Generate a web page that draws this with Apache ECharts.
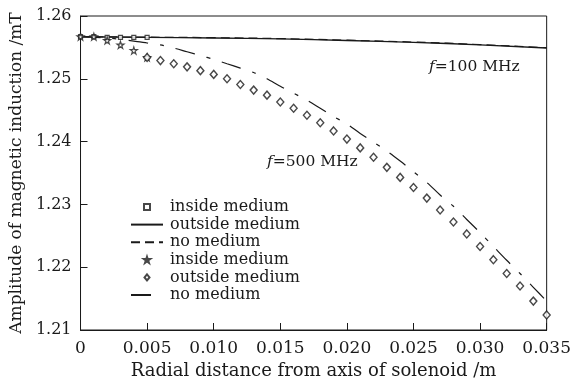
<!DOCTYPE html>
<html>
<head>
<meta charset="utf-8">
<script src="https://cdn.jsdelivr.net/npm/echarts@6/dist/echarts.min.js"></script>
<style>html,body{margin:0;padding:0;background:#fff}#c{width:574px;height:385px}</style>
</head>
<body>
<div id="c"></div>
<script>
// ---- data ----
const xTicks = [0, 0.005, 0.010, 0.015, 0.020, 0.025, 0.030, 0.035];
const yTicks = [1.21, 1.22, 1.23, 1.24, 1.25, 1.26];

// f = 100 MHz
const in100X = [0, 0.001, 0.002, 0.003, 0.004, 0.005];
const in100Y = [1.2567, 1.2567, 1.2566, 1.2566, 1.2566, 1.2566];
const out100X = [0, 0.005, 0.010, 0.015, 0.020, 0.025, 0.030, 0.035];
const out100Y = [1.2567, 1.2566, 1.2565, 1.25635, 1.2561, 1.2558, 1.2554, 1.2549];
const no100X = [0, 0.005, 0.010, 0.015, 0.020, 0.025, 0.030, 0.035];
const no100Y = [1.2567, 1.25663, 1.25655, 1.2564, 1.25615, 1.25585, 1.25545, 1.25495];

// f = 500 MHz
const in500X = [0, 0.001, 0.002, 0.003, 0.004, 0.005];
const in500Y = [1.2567, 1.2567, 1.2561, 1.2554, 1.2545, 1.2534];
const out500X = [0.005, 0.006, 0.007, 0.008, 0.009, 0.010, 0.011, 0.012, 0.013, 0.014, 0.015,
  0.016, 0.017, 0.018, 0.019, 0.020, 0.021, 0.022, 0.023, 0.024, 0.025,
  0.026, 0.027, 0.028, 0.029, 0.030, 0.031, 0.032, 0.033, 0.034, 0.035];
const out500Y = [1.2534, 1.2529, 1.2524, 1.2519, 1.2513, 1.2507, 1.2500, 1.2491, 1.2482, 1.2474, 1.2463,
  1.2453, 1.2442, 1.2430, 1.2417, 1.2404, 1.2390, 1.2375, 1.2359, 1.2343, 1.2327,
  1.2310, 1.2291, 1.2272, 1.2253, 1.2233, 1.2212, 1.2190, 1.2170, 1.2146, 1.2124];
const no500X = [0, 0.002, 0.004, 0.005, 0.006, 0.007, 0.008, 0.009, 0.010, 0.011, 0.012, 0.013,
  0.014, 0.015, 0.016, 0.017, 0.018, 0.019, 0.020, 0.021, 0.022, 0.023, 0.024,
  0.025, 0.026, 0.027, 0.028, 0.029, 0.030, 0.031, 0.032, 0.033, 0.034, 0.035];
const no500Y = [1.2567, 1.2565, 1.2560, 1.2557, 1.2554, 1.2549, 1.2543, 1.2537, 1.2531, 1.2524, 1.2517, 1.2510,
  1.2500, 1.2488, 1.2477, 1.2466, 1.2453, 1.2440, 1.2428, 1.2413, 1.2399, 1.2385, 1.2369,
  1.2352, 1.2335, 1.2315, 1.2297, 1.2276, 1.2255, 1.2233, 1.2211, 1.2190, 1.2168, 1.2146];

const seriesNames = ['inside medium', 'outside medium', 'no medium', 'inside medium', 'outside medium', 'no medium'];
const annotations = ['100 MHz', '500 MHz'];

// ---- chart ----
const zip = (xs, ys) => xs.map((x, i) => [x, ys[i]]);
const FONT = 'DejaVu Serif';
const INK = '#1a1a1a';
const starPath = 'path://M50,0 L61.8,36.2 L100,36.2 L69.1,58.6 L80.9,95.1 L50,72.7 L19.1,95.1 L30.9,58.6 L0,36.2 L38.2,36.2 Z';
const squarePath = 'path://M0,0 L10,0 L10,10 L0,10 Z';
const diamondPath = 'path://M5,0 L10,6 L5,12 L0,6 Z';
const ids = seriesNames.map((n, i) => n + '#' + i);
const isLine = [false, true, true, false, false, true];

const chart = echarts.init(document.getElementById('c'), null, {renderer: 'canvas'});
chart.setOption({
  animation: false,
  backgroundColor: '#fff',
  grid: {left: 80, right: 22, top: 16, bottom: 53, show: true, borderColor: INK, borderWidth: 1},
  xAxis: {
    type: 'value', min: 0, max: 0.035, interval: 0.005,
    name: 'Radial distance from axis of solenoid /m', nameLocation: 'middle', nameGap: 32,
    nameTextStyle: {fontFamily: FONT, fontSize: 18, color: INK},
    axisLine: {lineStyle: {color: INK, width: 1}},
    axisTick: {inside: true, length: 7, lineStyle: {color: INK}},
    splitLine: {show: false},
    axisLabel: {fontFamily: FONT, fontSize: 17, color: INK, margin: 10,
      formatter: v => { const t = xTicks.find(k => Math.abs(k - v) < 1e-9); const val = t === undefined ? v : t; return val === 0 ? '0' : val.toFixed(3); }}
  },
  yAxis: {
    type: 'value', min: 1.21, max: 1.26, interval: 0.01,
    name: 'Amplitude of magnetic induction /mT', nameLocation: 'middle', nameGap: 53,
    nameTextStyle: {fontFamily: FONT, fontSize: 17, color: INK},
    axisLine: {show: true, lineStyle: {color: INK, width: 1}},
    axisTick: {show: true, inside: true, length: 7, lineStyle: {color: INK}},
    splitLine: {show: false},
    axisLabel: {fontFamily: FONT, fontSize: 16, color: INK, margin: 9,
      formatter: v => { const t = yTicks.find(k => Math.abs(k - v) < 1e-9); return (t === undefined ? v : t).toFixed(2); }}
  },
  legend: {
    orient: 'vertical', left: 125, top: 194,
    itemWidth: 32, itemHeight: 6, itemGap: 1.6,
    symbolKeepAspect: true,
    data: ids.map((id, i) => isLine[i] ? {name: id, itemStyle: {opacity: 0}} : {name: id}),
    formatter: n => n.split('#')[0],
    textStyle: {fontFamily: FONT, fontSize: 16, color: INK, lineHeight: 16, padding: [0, 0, 0, 2]}
  },
  series: [
    {name: ids[0], type: 'scatter', data: zip(in100X, in100Y), symbol: squarePath, symbolSize: 4,
      itemStyle: {color: '#fff', borderColor: INK, borderWidth: 1.2}, z: 5},
    {name: ids[1], type: 'line', data: zip(out100X, out100Y), smooth: true, symbol: 'none', showSymbol: false,
      lineStyle: {color: INK, width: 1.4, type: 'solid'}, itemStyle: {color: INK}},
    {name: ids[2], type: 'line', data: zip(no100X, no100Y), smooth: true, symbol: 'none', showSymbol: false,
      lineStyle: {color: INK, width: 1.2, type: [9, 5]}, itemStyle: {color: INK}},
    {name: ids[3], type: 'scatter', data: zip(in500X, in500Y), symbol: starPath, symbolSize: 7,
      itemStyle: {color: '#fff', borderColor: INK, borderWidth: 1.2}, z: 5},
    {name: ids[4], type: 'scatter', data: zip(out500X, out500Y), symbol: diamondPath, symbolSize: [7, 8],
      itemStyle: {color: '#fff', borderColor: INK, borderWidth: 1.4}, z: 5},
    {name: ids[5], type: 'line', data: zip(no500X, no500Y), smooth: 0.3, symbol: 'none', showSymbol: false,
      lineStyle: {color: INK, width: 1.2, type: [20, 12, 4, 12]}, itemStyle: {color: INK}}
  ],
  graphic: [
    {type: 'text', x: 429, y: 59, style: {text: '{i|f}{n|=' + annotations[0] + '}',
      rich: {i: {fontStyle: 'italic', fontFamily: FONT, fontSize: 15.5, fill: INK}, n: {fontFamily: FONT, fontSize: 15.5, fill: INK}}}},
    {type: 'text', x: 267, y: 154, style: {text: '{i|f}{n|=' + annotations[1] + '}',
      rich: {i: {fontStyle: 'italic', fontFamily: FONT, fontSize: 15.5, fill: INK}, n: {fontFamily: FONT, fontSize: 15.5, fill: INK}}}}
  ]
});
</script>
</body>
</html>
